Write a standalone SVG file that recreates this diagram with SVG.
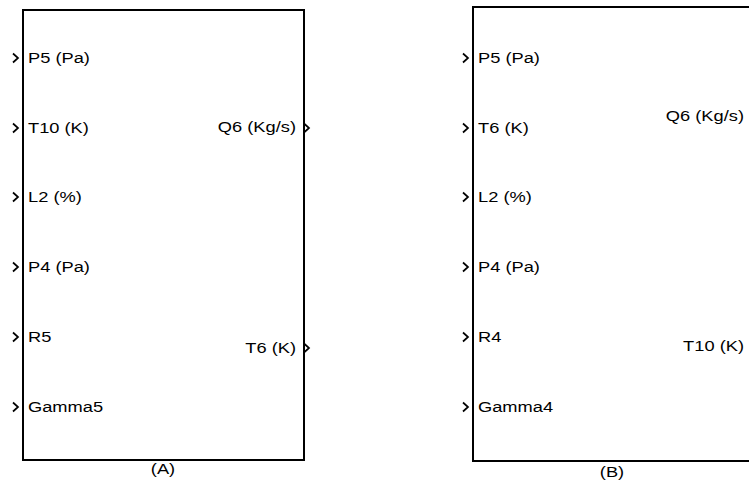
<svg xmlns="http://www.w3.org/2000/svg" width="749" height="488" viewBox="0 0 749 488">
<style>
.blk{fill:#fff;stroke:#000;stroke-width:2}
.t{font-family:"Liberation Sans",Arial,sans-serif;font-size:14.5px;fill:#000}
.e{text-anchor:end}
.m{text-anchor:middle}
.p{fill:none;stroke:#000;stroke-width:1.7}
</style>
<defs>
<path id="port" class="p" d="M-5,-4.5 L0,0 L-5,4.5"/>
</defs>
<g id="blockA">
<rect class="blk" x="23" y="10" width="281" height="450"/>
<g id="A-in-ports">
<use href="#port" x="18" y="58"/>
<use href="#port" x="18" y="128"/>
<use href="#port" x="18" y="197"/>
<use href="#port" x="18" y="267"/>
<use href="#port" x="18" y="337"/>
<use href="#port" x="18" y="407"/>
</g>
<text class="t" transform="translate(28,63) scale(1.26,1)">P5 (Pa)</text>
<text class="t" transform="translate(28,133) scale(1.26,1)">T10 (K)</text>
<text class="t" transform="translate(28,202) scale(1.26,1)">L2 (%)</text>
<text class="t" transform="translate(28,272) scale(1.26,1)">P4 (Pa)</text>
<text class="t" transform="translate(28,342) scale(1.26,1)">R5</text>
<text class="t" transform="translate(28,412) scale(1.26,1)">Gamma5</text>
<text class="t e" transform="translate(296,132) scale(1.26,1)">Q6 (Kg/s)</text>
<text class="t e" transform="translate(296,353) scale(1.26,1)">T6 (K)</text>
<use href="#port" x="309" y="128"/>
<use href="#port" x="309" y="348"/>
<text class="t m" transform="translate(163,474) scale(1.26,1)">(A)</text>
</g>
<g id="blockB">
<rect class="blk" x="473" y="7" width="280" height="454"/>
<use href="#port" x="468" y="58"/>
<use href="#port" x="468" y="128"/>
<use href="#port" x="468" y="197"/>
<use href="#port" x="468" y="267"/>
<use href="#port" x="468" y="337"/>
<use href="#port" x="468" y="407"/>
<text class="t" transform="translate(478,63) scale(1.26,1)">P5 (Pa)</text>
<text class="t" transform="translate(478,133) scale(1.26,1)">T6 (K)</text>
<text class="t" transform="translate(478,202) scale(1.26,1)">L2 (%)</text>
<text class="t" transform="translate(478,272) scale(1.26,1)">P4 (Pa)</text>
<text class="t" transform="translate(478,342) scale(1.26,1)">R4</text>
<text class="t" transform="translate(478,412) scale(1.26,1)">Gamma4</text>
<text class="t e" transform="translate(744,121) scale(1.26,1)">Q6 (Kg/s)</text>
<text class="t e" transform="translate(744,351) scale(1.26,1)">T10 (K)</text>
<text class="t m" transform="translate(612,477) scale(1.26,1)">(B)</text>
</g>
<g id="connectors"></g>
</svg>
